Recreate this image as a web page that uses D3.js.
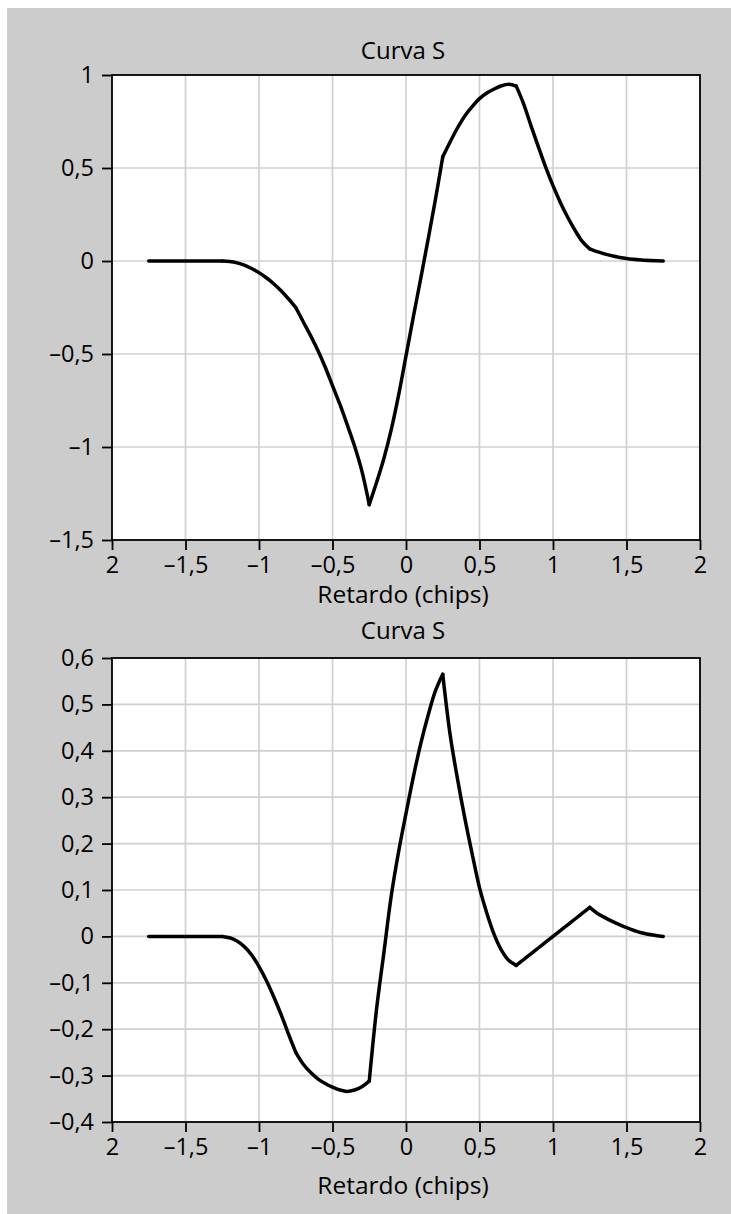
<!DOCTYPE html>
<html>
<head>
<meta charset="utf-8">
<script src="https://cdn.jsdelivr.net/npm/d3@7"></script>
<style>
  body { margin: 0; background: #fff; }
  text { font-family: "Open Sans", sans-serif; fill: #000; }
</style>
</head>
<body>
<svg id="chart"></svg>
<script>
// delay in chips, shared by both curves
const delays = [-1.75, -1.5, -1.25, -1.2, -1.15, -1.1, -1.05, -1.0, -0.95, -0.9, -0.85, -0.8, -0.75,
  -0.7, -0.65, -0.6, -0.55, -0.5, -0.45, -0.4, -0.35, -0.3, -0.25,
  -0.2, -0.15, -0.1, -0.05, 0, 0.05, 0.1, 0.15, 0.2, 0.25,
  0.3, 0.35, 0.4, 0.45, 0.5, 0.55, 0.6, 0.65, 0.7, 0.75,
  0.8, 0.85, 0.9, 0.95, 1.0, 1.05, 1.1, 1.15, 1.2, 1.25,
  1.3, 1.35, 1.4, 1.5, 1.6, 1.7, 1.75]

const curveTop = [0, 0, 0, -0.003, -0.01, -0.022, -0.04, -0.0625, -0.09, -0.122, -0.16, -0.203, -0.25,
  -0.325, -0.4, -0.48, -0.57, -0.67, -0.77, -0.88, -0.995, -1.13, -1.31,
  -1.19, -1.06, -0.905, -0.72, -0.51, -0.3, -0.095, 0.115, 0.33, 0.56,
  0.64, 0.715, 0.78, 0.83, 0.873, 0.903, 0.925, 0.942, 0.95, 0.94,
  0.845, 0.728, 0.615, 0.505, 0.405, 0.315, 0.235, 0.165, 0.104, 0.065,
  0.05, 0.038, 0.028, 0.013, 0.005, 0.001, 0]

const curveBottom = [0, 0, 0, -0.003, -0.01, -0.022, -0.04, -0.065, -0.095, -0.13, -0.168, -0.21, -0.25,
  -0.275, -0.293, -0.307, -0.317, -0.325, -0.331, -0.334, -0.331, -0.324, -0.312,
  -0.156, -0.034, 0.088, 0.183, 0.265, 0.344, 0.415, 0.476, 0.529, 0.565,
  0.435, 0.34, 0.255, 0.178, 0.105, 0.05, 0.004, -0.03, -0.052, -0.0625,
  -0.05, -0.0375, -0.025, -0.0125, 0, 0.0125, 0.025, 0.0375, 0.05, 0.0625,
  0.05, 0.041, 0.033, 0.019, 0.008, 0.002, 0]

// delays where the curves have corners
const breaksTop = [-1.75, -1.25, -0.75, -0.25, 0.25, 0.75, 1.25, 1.75]
const breaksBottom = [-1.75, -1.25, -0.75, -0.25, 0.25, 0.75, 1.25, 1.75]

const xTicks = [-2, -1.5, -1, -0.5, 0, 0.5, 1, 1.5, 2]
const xTickLabels = ["2", "–1,5", "–1", "–0,5", "0", "0,5", "1", "1,5", "2"]

const yTicksTop = [-1.5, -1, -0.5, 0, 0.5, 1]
const yLabelsTop = ["–1,5", "–1", "–0,5", "0", "0,5", "1"]

const yTicksBottom = [-0.4, -0.3, -0.2, -0.1, 0, 0.1, 0.2, 0.3, 0.4, 0.5, 0.6]
const yLabelsBottom = ["–0,4", "–0,3", "–0,2", "–0,1", "0", "0,1", "0,2", "0,3", "0,4", "0,5", "0,6"]

const titles = ["Curva S", "Curva S"]
const xLabel = "Retardo (chips)"

const W = 731, H = 1214

const svg = d3.select("#chart")
  .attr("width", W)
  .attr("height", H)

svg.append("rect")
  .attr("x", 7).attr("y", 8)
  .attr("width", W - 7).attr("height", H - 8)
  .attr("fill", "#cccccc")

const drawPanel = (cfg) => {
  const x = d3.scaleLinear().domain([-2, 2]).range([112, 700])
  const y = d3.scaleLinear().domain(cfg.yDomain).range([cfg.bottom, cfg.top])
  const g = svg.append("g")

  g.append("rect")
    .attr("x", 112).attr("y", cfg.top)
    .attr("width", 588).attr("height", cfg.bottom - cfg.top)
    .attr("fill", "#fff")

  // grid
  g.append("g").selectAll("line")
    .data(xTicks.slice(1, -1))
    .enter().append("line")
    .attr("x1", d => x(d)).attr("x2", d => x(d))
    .attr("y1", cfg.top).attr("y2", cfg.bottom)
    .attr("stroke", "#d0d0d0").attr("stroke-width", 1.7)
  g.append("g").selectAll("line")
    .data(cfg.yTicks.slice(1, -1))
    .enter().append("line")
    .attr("x1", 112).attr("x2", 700)
    .attr("y1", d => y(d)).attr("y2", d => y(d))
    .attr("stroke", "#d0d0d0").attr("stroke-width", 1.7)

  // frame
  g.append("rect")
    .attr("x", 112).attr("y", cfg.top)
    .attr("width", 588).attr("height", cfg.bottom - cfg.top)
    .attr("fill", "none").attr("stroke", "#000").attr("stroke-width", 1.8)

  const xAxis = d3.axisBottom(x).tickValues(xTicks)
    .tickFormat((d, i) => xTickLabels[i]).tickSize(10).tickPadding(6)
  const gx = g.append("g").attr("transform", `translate(0,${cfg.bottom})`).call(xAxis)
  gx.select(".domain").remove()
  gx.selectAll(".tick line").attr("stroke", "#000").attr("stroke-width", 1.8)
  gx.selectAll(".tick text").style("font-size", "23.5px").style("font-family", "'Open Sans', sans-serif")

  const yAxis = d3.axisLeft(y).tickValues(cfg.yTicks)
    .tickFormat((d, i) => cfg.yLabels[i]).tickSize(10).tickPadding(8)
  const gy = g.append("g").attr("transform", "translate(112,0)").call(yAxis)
  gy.select(".domain").remove()
  gy.selectAll(".tick line").attr("stroke", "#000").attr("stroke-width", 1.8)
  gy.selectAll(".tick text").style("font-size", "23.5px").style("font-family", "'Open Sans', sans-serif")

  // one smooth piece between each pair of corners
  const pts = cfg.values.map((v, i) => [delays[i], v])
  const line = d3.line()
    .x(d => x(d[0]))
    .y(d => y(d[1]))
    .curve(d3.curveCatmullRom.alpha(0.5))
  d3.pairs(cfg.breaks).forEach(([a, b]) => {
    g.append("path")
      .datum(pts.filter(p => p[0] >= a - 1e-9 && p[0] <= b + 1e-9))
      .attr("d", line)
      .attr("fill", "none")
      .attr("stroke", "#000")
      .attr("stroke-width", 3.5)
      .attr("stroke-linejoin", "round")
      .attr("stroke-linecap", "round")
  })

  g.append("text")
    .attr("x", 403).attr("y", cfg.titleY)
    .attr("text-anchor", "middle")
    .style("font-size", "24px")
    .text(cfg.title)
  g.append("text")
    .attr("x", 403).attr("y", cfg.labelY)
    .attr("text-anchor", "middle")
    .style("font-size", "24.5px")
    .text(xLabel)
}

drawPanel({ top: 75, bottom: 540, yDomain: [-1.5, 1], yTicks: yTicksTop, yLabels: yLabelsTop,
  values: curveTop, breaks: breaksTop, title: titles[0], titleY: 59, labelY: 603 })
drawPanel({ top: 658, bottom: 1122, yDomain: [-0.4, 0.6], yTicks: yTicksBottom, yLabels: yLabelsBottom,
  values: curveBottom, breaks: breaksBottom, title: titles[1], titleY: 639, labelY: 1194 })
</script>
</body>
</html>
